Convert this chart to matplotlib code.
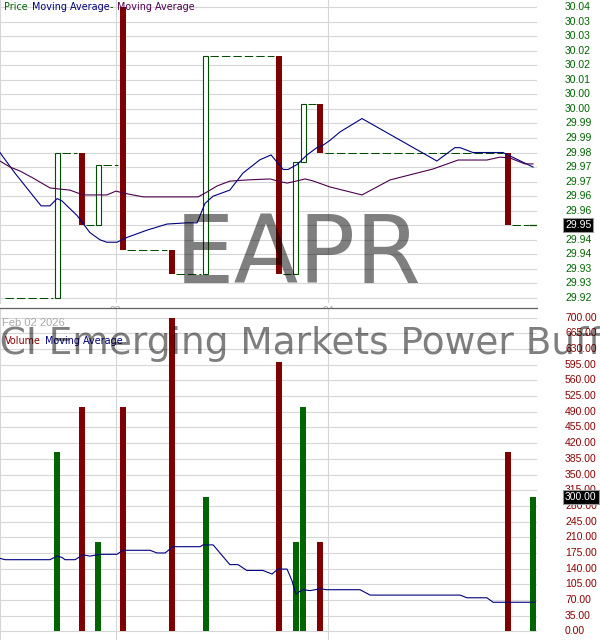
import matplotlib
matplotlib.use("Agg")
import matplotlib.pyplot as plt
from matplotlib.patches import Rectangle

# ---------------- data ----------------
# trade times in trading hours elapsed since 2026-02-02 09:30 (6.5 h per session)
trade_hours = [4.71, 5.47, 5.97, 6.72, 8.22, 9.25, 11.49, 12.00, 12.24, 12.75, 18.49, 19.26]
opens = [29.92, 29.98, 29.95, 30.04, 29.94, 29.93, 30.02, 29.93, 29.976, 30.00, 29.98, 29.95]
closes = [29.98, 29.95, 29.975, 29.94, 29.93, 30.02, 29.93, 29.976, 30.00, 29.98, 29.95, 29.95]
volumes = [400, 500, 200, 500, 700, 300, 600, 200, 500, 200, 400, 300]
prev_close = 29.92

price_ma_hours = [2.96, 3.42, 4.22, 4.49, 4.71, 4.86, 5.32, 5.71, 6.02, 6.23, 6.54, 6.85,
                  7.46, 8.07, 8.68, 8.99, 9.23, 9.48, 9.99, 10.39, 10.91, 11.25, 11.62,
                  11.77, 12.04, 12.35, 12.65, 12.84, 13.05, 13.36, 14.03, 16.32, 16.87,
                  17.03, 17.42, 18.34, 19.26]
price_ma = [29.980, 29.9715, 29.958, 29.958, 29.961, 29.960, 29.954, 29.947, 29.944,
            29.943, 29.943, 29.945, 29.948, 29.9505, 29.951, 29.951, 29.959, 29.962,
            29.9645, 29.9715, 29.977, 29.979, 29.973, 29.973, 29.975, 29.979, 29.982,
            29.983, 29.985, 29.9885, 29.994, 29.9765, 29.982, 29.982, 29.980, 29.980,
            29.974]

ma2_hours = [2.96, 3.27, 3.57, 3.97, 4.49, 4.80, 5.10, 5.50, 6.23, 6.51, 6.72, 7.34, 7.85,
             9.02, 9.29, 9.60, 9.99, 10.53, 11.22, 11.52, 11.74, 11.89, 12.29, 12.53,
             13.05, 14.03, 14.89, 16.20, 16.97, 17.85, 18.25, 18.56, 19.01, 19.26]
ma2 = [29.9765, 29.974, 29.9724, 29.9695, 29.9654, 29.9649, 29.9645, 29.9625, 29.9625,
       29.9641, 29.9633, 29.9617, 29.9617, 29.9617, 29.9637, 29.9662, 29.9682, 29.9687,
       29.9691, 29.9680, 29.9674, 29.9678, 29.9691, 29.9683, 29.9658, 29.9625, 29.9687,
       29.9732, 29.9769, 29.9769, 29.9781, 29.9777, 29.9753, 29.9753]

vol_ma_hours = [2.96, 3.12, 4.49, 4.71, 4.86, 4.95, 5.26, 5.50, 5.71, 6.02, 6.54, 6.72,
                7.55, 7.76, 8.01, 8.25, 9.08, 9.17, 9.48, 9.99, 10.24, 10.51, 11.00,
                11.28, 11.46, 11.74, 11.89, 12.01, 12.12, 12.23, 12.44, 12.75, 12.96,
                13.97, 14.28, 17.03, 17.24, 17.85, 18.04, 19.32]
vol_ma = [163, 160, 160, 168, 165, 160, 160, 171, 168, 172, 172, 181, 181, 175, 175, 189,
          189, 193, 193, 149, 149, 136, 136, 128, 139, 139, 113, 83, 89, 93, 91, 95, 93,
          93, 81, 81, 75, 75, 65, 65]

price_ticks = [29.920, 29.926, 29.932, 29.938, 29.944, 29.950, 29.956, 29.962, 29.968,
               29.974, 29.980, 29.986, 29.992, 29.998, 30.004, 30.010, 30.016, 30.022,
               30.028, 30.034, 30.040]
volume_ticks = [0, 35, 70, 105, 140, 175, 210, 245, 280, 315, 350, 385, 420, 455, 490,
                525, 560, 595, 630, 665, 700]
day_ticks = [6.5, 13.0]
day_labels = ["03", "04"]
start_label = "Feb 02 2026"
symbol = "EAPR"
fund_name = "Innovator MSCI Emerging Markets Power Buffer ETF - April"

# ---------------- style ----------------
GREEN = "#006400"
DKGREEN = "#004d00"
RED = "#800000"
NAVY = "#000080"
PURPLE = "#4d004d"
GRID = "#d6d6d6"
LBL = "#aaaaaa"

W, H = 600, 640
fig = plt.figure(figsize=(6, 6.4), dpi=100)
fig.patch.set_facecolor("white")

plot_right = 537
ax = fig.add_axes([0, 1 - 303 / H, plot_right / W, 303 / H])
axv = fig.add_axes([0, 0, plot_right / W, 332 / H])

xlim = (2.963, 19.381)
px_per_h = plot_right / (xlim[1] - xlim[0])
bw = 6.0 / px_per_h

for a in (ax, axv):
    a.set_xlim(*xlim)
    a.set_facecolor("white")
    a.tick_params(length=0, labelleft=False, labelbottom=False)
    for s in a.spines.values():
        s.set_visible(False)
    a.spines["left"].set_visible(True)
    a.spines["left"].set_color(GRID)
    a.set_xticks(day_ticks)
    a.grid(True, color=GRID, lw=0.8)
    a.set_axisbelow(True)

ax.set_ylim(29.91794, 30.04289)
ax.set_yticks(price_ticks)
axv.set_ylim(-19.2, 721.6)
axv.set_yticks(volume_ticks)
axv.spines["top"].set_visible(True)
axv.spines["top"].set_color("#606060")
axv.spines["top"].set_linewidth(0.9)

# ---------------- candles ----------------
gap = 1.5 / px_per_h
x_first = trade_hours[0] - bw / 2
ax.plot([xlim[0] + 5 / px_per_h, x_first - gap], [prev_close, prev_close],
        color=DKGREEN, lw=0.75, ls=(0, (8, 3)), zorder=2)
for i, (t, o, c) in enumerate(zip(trade_hours, opens, closes)):
    lo, hi = min(o, c), max(o, c)
    if c > o:
        ax.add_patch(Rectangle((t - bw / 2 + 0.5 / px_per_h, lo), bw - 1 / px_per_h, hi - lo,
                               facecolor="white", edgecolor=DKGREEN, lw=0.8, zorder=2))
    elif c < o:
        ax.add_patch(Rectangle((t - bw / 2, lo), bw, hi - lo, facecolor=RED,
                               edgecolor="none", zorder=2))
    else:
        ax.plot([t - bw / 2, t + bw / 2], [c, c], color=DKGREEN, lw=0.9, zorder=2)
    if i + 1 < len(trade_hours):
        ax.plot([t + bw / 2 + gap, trade_hours[i + 1] - bw / 2 - gap], [c, c],
                color=DKGREEN, lw=0.75, ls=(0, (8, 3)), zorder=2)

ax.plot(price_ma_hours, price_ma, color=NAVY, lw=0.8, zorder=3)
ax.plot(ma2_hours, ma2, color=PURPLE, lw=0.8, zorder=3)

# ---------------- volume ----------------
vcolors = [GREEN if c >= o else RED for o, c in zip(opens, closes)]
axv.bar(trade_hours, volumes, width=bw, color=vcolors, zorder=2)
axv.plot(vol_ma_hours, vol_ma, color=NAVY, lw=0.8, zorder=3)

# ---------------- axis labels ----------------
lab_x = 565 / plot_right
tfont = dict(family="Liberation Sans", fontsize=7.5)
last_price = closes[-1]
for v in price_ticks:
    if abs(v - last_price) < 1e-9:
        continue
    ax.text(lab_x, v, f"{v:.2f}", transform=ax.get_yaxis_transform(), ha="left",
            va="center", color=GREEN, clip_on=False, **tfont)
ax.text(lab_x, last_price, f"{last_price:.2f}", transform=ax.get_yaxis_transform(),
        ha="left", va="center", color="white", clip_on=False, zorder=6,
        bbox=dict(boxstyle="square,pad=0.18", fc="black", ec="#999999", lw=0.8), **tfont)

for v in volume_ticks:
    axv.text(lab_x, v, f"{v:.2f}", transform=axv.get_yaxis_transform(), ha="left",
             va="center", color="#8b0000", clip_on=False, **tfont)
last_vol = volumes[-1]
axv.text(lab_x, last_vol, f"{last_vol:.2f}", transform=axv.get_yaxis_transform(),
         ha="left", va="center", color="white", clip_on=False, zorder=6,
         bbox=dict(boxstyle="square,pad=0.18", fc="black", ec="#999999", lw=0.8), **tfont)

for t, lab in zip(day_ticks, day_labels):
    ax.text(t, -8 / 303, lab, transform=ax.get_xaxis_transform(), ha="center", va="center",
            color=LBL, clip_on=False, **tfont)
fig.text(2 / W, 1 - 323 / H, start_label, ha="left", va="center", color=LBL,
         family="Liberation Sans", fontsize=8)

# ---------------- legends ----------------
lfont = dict(family="DejaVu Sans", fontsize=6.9, va="center", ha="left")
ly = 1 - 7 / H
fig.text(4 / W, ly, "Price", color=GREEN, **lfont)
fig.text(32 / W, ly, "Moving Average", color=NAVY, **lfont)
fig.text(110 / W, ly, "-", color=DKGREEN, **lfont)
fig.text(117 / W, ly, "Moving Average", color=PURPLE, **lfont)
vy = 1 - 341 / H
fig.text(5 / W, vy, "Volume", color="#8b0000", **lfont)
fig.text(45 / W, vy, "Moving Average", color=NAVY, **lfont)

# ---------------- watermarks ----------------
fig.text(298.5 / W, 1 - 283 / H, symbol, ha="center", va="baseline", fontsize=68,
         family="DejaVu Sans", color="black", alpha=0.5, zorder=5)
fig.text(298 / W, 1 - 354 / H, fund_name, ha="center", va="baseline", fontsize=27,
         family="DejaVu Sans", color="black", alpha=0.5, zorder=5)

fig.savefig("out.png", dpi=100, facecolor="white")
